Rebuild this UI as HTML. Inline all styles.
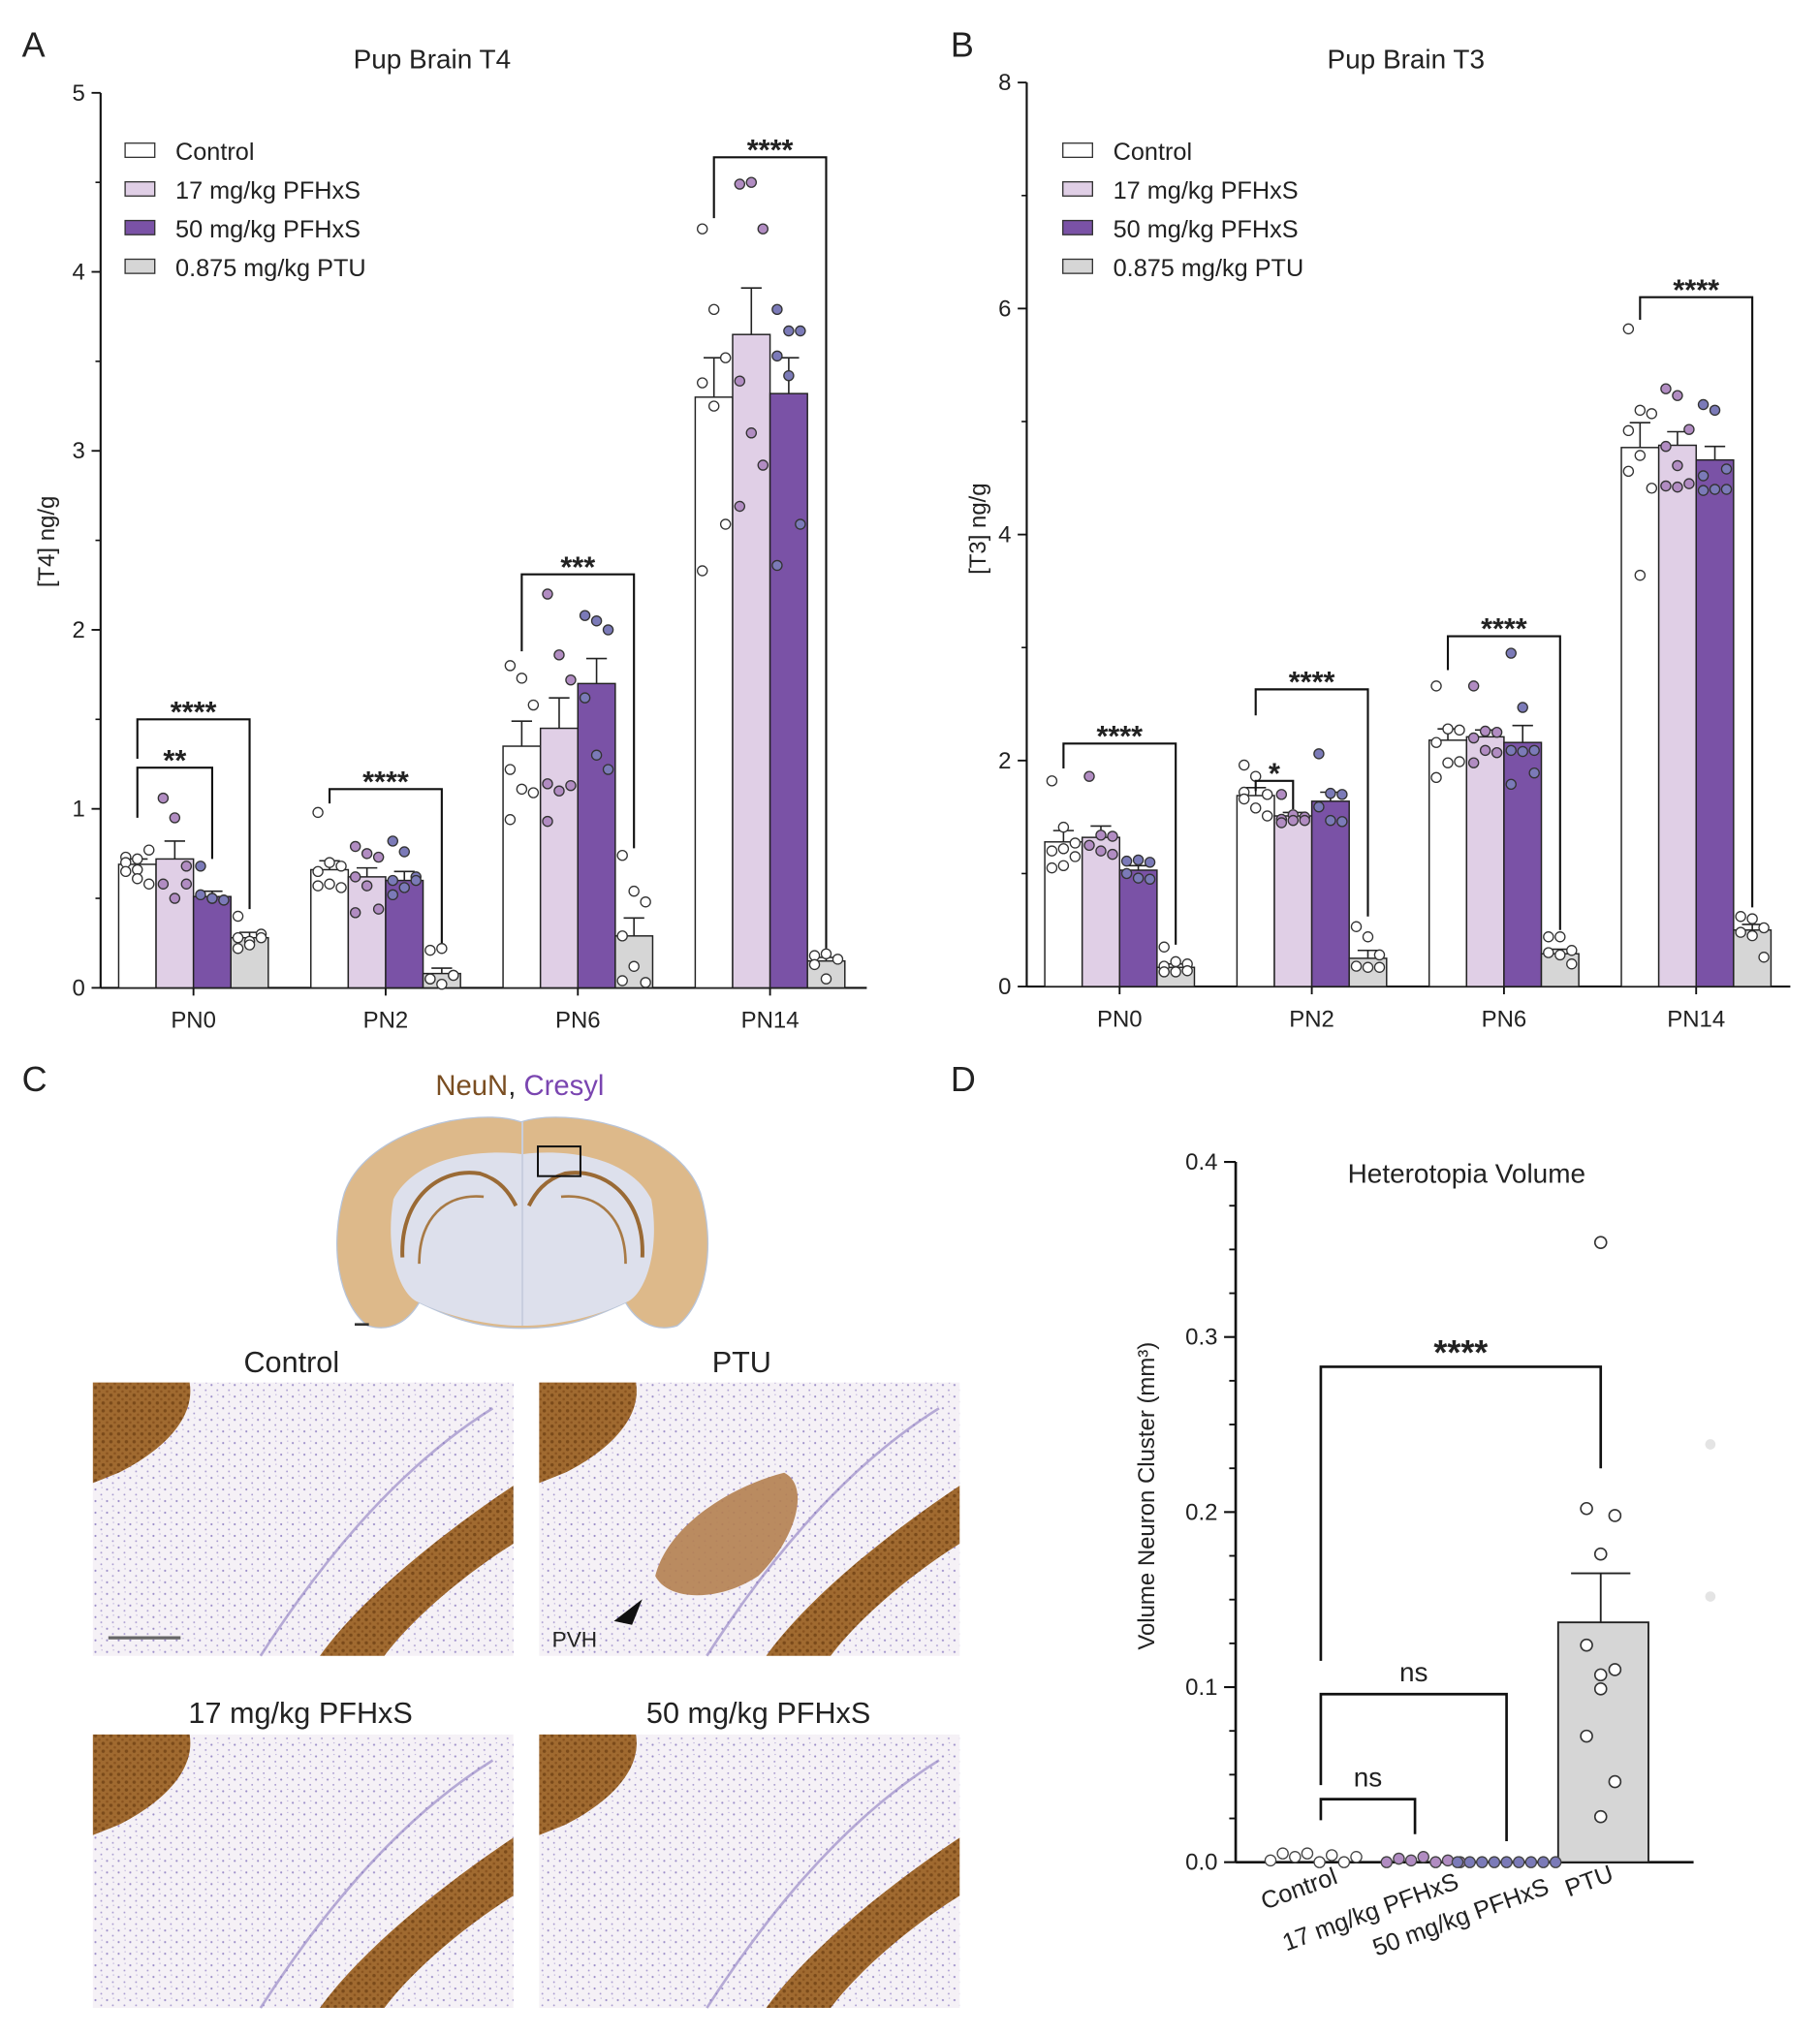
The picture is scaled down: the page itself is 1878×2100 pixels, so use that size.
<!DOCTYPE html>
<html><head><meta charset="utf-8">
<style>
html,body{margin:0;padding:0;background:#fff;}
svg{display:block;font-family:"Liberation Sans",Arial,sans-serif;}
</style></head>
<body>
<svg id="fig" width="1878" height="2100" viewBox="0 0 1411 1578" preserveAspectRatio="none" xmlns="http://www.w3.org/2000/svg">
<defs>
<pattern id="cells" width="9" height="9" patternUnits="userSpaceOnUse">
<rect width="9" height="9" fill="#f5f1f6"/>
<circle cx="2" cy="3" r="0.8" fill="#9a8cc8"/><circle cx="6.5" cy="7" r="0.7" fill="#a89ad0"/><circle cx="7" cy="1.5" r="0.5" fill="#b4a8d6"/>
</pattern>
<pattern id="brown" width="6" height="6" patternUnits="userSpaceOnUse">
<rect width="6" height="6" fill="#a06a30"/><circle cx="2" cy="2" r="1.3" fill="#7a4a1a"/><circle cx="5" cy="5" r="1" fill="#8a5420"/>
</pattern>
</defs>
<g id="root"></g>
</svg>
<script>
// ---------- Panel A data (T4) ----------
const groupsA = ["PN0","PN2","PN6","PN14"];
const seriesNames = ["Control","17 mg/kg PFHxS","50 mg/kg PFHxS","0.875 mg/kg PTU"];
const meanControlA = [0.69,0.66,1.35,3.30];
const mean17A = [0.72,0.62,1.45,3.65];
const mean50A = [0.51,0.60,1.70,3.32];
const meanPtuA = [0.28,0.08,0.29,0.15];
const semControlA = [0.03,0.05,0.14,0.22];
const sem17A = [0.10,0.05,0.17,0.26];
const sem50A = [0.03,0.05,0.14,0.20];
const semPtuA = [0.03,0.03,0.10,0.02];
const ptsControlA = [[0.73,0.72,0.77,0.70,0.66,0.58,0.65,0.61],[0.98,0.70,0.68,0.65,0.58,0.56,0.57],[1.80,1.73,1.58,1.22,1.11,1.09,0.94],[4.24,3.79,3.52,3.38,3.25,2.59,2.33]];
const pts17A = [[1.06,0.95,0.68,0.58,0.50,0.58],[0.79,0.75,0.73,0.62,0.57,0.44,0.42],[2.20,1.86,1.72,1.14,1.10,1.13,0.93],[4.49,4.50,4.24,3.39,3.10,2.92,2.69]];
const pts50A = [[0.68,0.50,0.49,0.52,0.50,0.49],[0.82,0.76,0.62,0.60,0.56,0.60,0.52],[2.08,2.05,2.00,1.62,1.30,1.22],[3.79,3.67,3.67,3.53,3.42,2.59,2.36]];
const ptsPtuA = [[0.40,0.26,0.30,0.28,0.24,0.28,0.22],[0.21,0.22,0.07,0.05,0.02,0.07,0.05],[0.74,0.54,0.48,0.29,0.12,0.03,0.04],[0.18,0.19,0.16,0.13,0.05]];
const ticksA = [0,1,2,3,4,5];
const bracketsA = [[0,0,3,1.50,1.28,0.44,"****"],[0,0,2,1.23,0.95,0.72,"**"],[1,0,3,1.11,1.03,0.25,"****"],[2,0,3,2.31,1.88,0.78,"***"],[3,0,3,4.64,4.30,0.22,"****"]];

// ---------- Panel B data (T3) ----------
const meanControlB = [1.28,1.69,2.18,4.77];
const mean17B = [1.32,1.51,2.21,4.79];
const mean50B = [1.03,1.64,2.16,4.66];
const meanPtuB = [0.17,0.25,0.29,0.50];
const semControlB = [0.10,0.07,0.10,0.22];
const sem17B = [0.10,0.03,0.06,0.12];
const sem50B = [0.04,0.08,0.15,0.12];
const semPtuB = [0.03,0.07,0.04,0.05];
const ptsControlB = [[1.82,1.41,1.27,1.20,1.22,1.15,1.05,1.07],[1.96,1.86,1.70,1.72,1.58,1.51,1.66],[2.66,2.28,2.27,2.16,1.98,1.99,1.85],[5.82,5.10,5.07,4.92,4.70,4.41,4.56,3.64]];
const pts17B = [[1.86,1.34,1.33,1.25,1.20,1.17],[1.70,1.52,1.50,1.48,1.47,1.47,1.45],[2.66,2.26,2.25,2.20,2.09,2.07,1.98],[5.29,5.23,4.93,4.78,4.61,4.45,4.43,4.42]];
const pts50B = [[1.11,1.12,1.10,1.00,0.96,0.95],[2.06,1.71,1.70,1.59,1.47,1.46],[2.95,2.47,2.09,2.09,2.08,1.89,1.79],[5.15,5.10,4.58,4.52,4.40,4.40,4.39]];
const ptsPtuB = [[0.35,0.22,0.20,0.18,0.13,0.14,0.13],[0.53,0.44,0.28,0.18,0.17,0.17],[0.44,0.44,0.32,0.30,0.28,0.20],[0.62,0.60,0.52,0.48,0.45,0.26]];
const ticksB = [0,2,4,6,8];
const bracketsB = [[0,0,3,2.15,1.93,0.37,"****"],[1,0,1,1.82,1.73,1.57,"*"],[1,0,3,2.63,2.40,0.62,"****"],[2,0,3,3.10,2.80,0.50,"****"],[3,0,3,6.10,5.90,0.70,"****"]];

// ---------- Panel D data ----------
const catsD = ["Control","17 mg/kg PFHxS","50 mg/kg PFHxS","PTU"];
const meanPtuD = 0.137;
const semPtuD = 0.028;
const ptsPtuD = [0.354,0.202,0.198,0.176,0.124,0.110,0.107,0.099,0.072,0.046,0.026];
const ptsControlD = [0.001,0.005,0.003,0.005,0.0,0.004,0.0,0.003];
const pts17D = [0.0,0.002,0.001,0.003,0.0,0.001,0.0];
const pts50D = [0,0,0,0,0,0,0,0,0];
const ticksD = [0,0.1,0.2,0.3,0.4];
const bracketsD = [[0,3,0.283,0.115,0.225,"****"],[0,2,0.096,0.044,0.012,"ns"],[0,1,0.036,0.024,0.016,"ns"]];

const NS="http://www.w3.org/2000/svg";
const root=document.getElementById('root');
function mk(tag,attrs,parent){const e=document.createElementNS(NS,tag);for(const k in attrs)e.setAttribute(k,attrs[k]);(parent||root).appendChild(e);return e;}
function txt(s,x,y,size,attrs,parent){const e=mk('text',Object.assign({x:x,y:y,'font-size':size,fill:'#222'},attrs||{}),parent);e.textContent=s;return e;}

const barFill=["#ffffff","#e0cfe6","#7a52a6","#d6d6d6"];
const ptFill=["#ffffff","#b18cc2","#7b7ab8","#ffffff"];

function barPanel(cfg){
  const g=mk('g',{});
  
  
  const y=v=>cfg.y0-(v/cfg.ymax)*(cfg.y0-cfg.ytop);
  const gx=i=>cfg.x0+cfg.firstOff+i*cfg.gap;
  const bw=29;
  const bx=(i,s)=>gx(i)-2*bw+s*bw;
  const ya=mk('line',{x1:cfg.x0,y1:cfg.ytop,x2:cfg.x0,y2:cfg.y0,stroke:'#111','stroke-width':1.6},g);
  
  const xa=mk('line',{x1:cfg.x0,y1:cfg.y0,x2:cfg.xend,y2:cfg.y0,stroke:'#111','stroke-width':1.6},g);
  
  cfg.ticks.forEach((t,k)=>{
    mk('line',{x1:cfg.x0-7,y1:y(t),x2:cfg.x0,y2:y(t),stroke:'#111','stroke-width':1.4},g);
    const lb=txt(String(t),cfg.x0-12,y(t)+6,18,{'text-anchor':'end'},g);
    
    if(k<cfg.ticks.length-1){const step=(cfg.ticks[k+1]-t)/cfg.minor;for(let m=1;m<cfg.minor;m++){mk('line',{x1:cfg.x0-4,y1:y(t+m*step),x2:cfg.x0,y2:y(t+m*step),stroke:'#111','stroke-width':1.2},g);}}
  });
  const series=[[cfg.mc,cfg.sc,cfg.pc],[cfg.m17,cfg.s17,cfg.p17],[cfg.m50,cfg.s50,cfg.p50],[cfg.mp,cfg.sp,cfg.pp]];
  groupsA.forEach((gname,i)=>{
    const lb=txt(gname,gx(i),cfg.y0+31,18,{'text-anchor':'middle'},g);
    
    mk('line',{x1:gx(i),y1:cfg.y0,x2:gx(i),y2:cfg.y0+6,stroke:'#111','stroke-width':1.4},g);
    series.forEach((sr,s)=>{
      const m=sr[0][i],se=sr[1][i];
      const r=mk('rect',{x:bx(i,s),y:y(m),width:bw,height:cfg.y0-y(m),fill:barFill[s],stroke:'#222','stroke-width':1.1},g);
      
      
      const cx=bx(i,s)+bw/2;
      mk('line',{x1:cx,y1:y(m),x2:cx,y2:y(m+se),stroke:'#222','stroke-width':1.2},g);
      mk('line',{x1:cx-8,y1:y(m+se),x2:cx+8,y2:y(m+se),stroke:'#222','stroke-width':1.2},g);
      const pts=sr[2][i];
      pts.forEach((v,j)=>{
        const off=((j%3)-1)*9;
        const c=mk('circle',{cx:cx+off,cy:y(v),r:3.8,fill:ptFill[s],stroke:'#333','stroke-width':1},g);
        
        
      });
    });
  });
  cfg.brackets.forEach(b=>{
    const xl=bx(b[0],b[1])+bw/2,xr=bx(b[0],b[2])+bw/2;
    const p=mk('path',{d:`M${xl},${y(b[4])}V${y(b[3])}H${xr}V${y(b[5])}`,fill:'none',stroke:'#111','stroke-width':1.6},g);
    
    const t=txt(b[6],(xl+xr)/2,y(b[3])+2,23,{'text-anchor':'middle','font-weight':'bold'},g);
    
  });
  seriesNames.forEach((n,s)=>{
    const ly=cfg.legY+s*30;
    const r=mk('rect',{x:cfg.legX,y:ly-6,width:23,height:11,fill:barFill[s],stroke:'#333','stroke-width':1},g);
    
    const t=txt(n,cfg.legX+39,ly+7,19,{},g);
    
  });
  const tt=txt(cfg.title,cfg.titleX,53,21,{'text-anchor':'middle'},g);
  
  const yl=txt(cfg.ylabel,0,0,18,{'text-anchor':'middle',transform:`translate(${cfg.ylX},${cfg.ylY}) rotate(-90)`},g);
  
  const pl=txt(cfg.letter,cfg.letterX,44,27,{},g);
  
}

barPanel({name:'panel-a-t4-chart',x0:78,xend:672,y0:766,ytop:72,ymax:5,ticks:ticksA,minor:2,firstOff:72,gap:149,
  mc:meanControlA,m17:mean17A,m50:mean50A,mp:meanPtuA,sc:semControlA,s17:sem17A,s50:sem50A,sp:semPtuA,
  pc:ptsControlA,p17:pts17A,p50:pts50A,pp:ptsPtuA,brackets:bracketsA,legX:97,legY:117,title:'Pup Brain T4',titleX:335,
  ylabel:'[T4] ng/g',ylX:42,ylY:420,letter:'A',letterX:17});
barPanel({name:'panel-b-t3-chart',x0:796,xend:1388,y0:765,ytop:64,ymax:8,ticks:ticksB,minor:2,firstOff:72,gap:149,
  mc:meanControlB,m17:mean17B,m50:mean50B,mp:meanPtuB,sc:semControlB,s17:sem17B,s50:sem50B,sp:semPtuB,
  pc:ptsControlB,p17:pts17B,p50:pts50B,pp:ptsPtuB,brackets:bracketsB,legX:824,legY:117,title:'Pup Brain T3',titleX:1090,
  ylabel:'[T3] ng/g',ylX:764,ylY:410,letter:'B',letterX:737});

// ---------- Panel C (histology illustration) ----------
(function(){
  const g=mk('g',{});
  
  const pl=txt('C',17,846,27,{},g);
  const st=mk('text',{x:403,y:849,'font-size':22,'text-anchor':'middle'},g);
  
  const a=mk('tspan',{fill:'#7a4e22'},st);a.textContent='NeuN';
  const b=mk('tspan',{fill:'#222'},st);b.textContent=', ';
  const c=mk('tspan',{fill:'#7a45b0'},st);c.textContent='Cresyl';
  const br=mk('path',{d:'M404,870 C440,858 525,875 543,925 C555,965 548,1010 525,1028 C505,1034 492,1022 485,1010 C460,1022 440,1030 405,1030 C370,1030 350,1022 325,1010 C318,1022 305,1034 285,1028 C262,1010 255,965 267,925 C285,875 370,858 404,870 Z',fill:'#ddb98a',stroke:'#b8c4d8','stroke-width':1},g);
  
  mk('path',{d:'M405,895 C445,890 490,900 505,930 C512,970 500,1005 485,1010 C460,1022 430,1028 405,1028 C380,1028 350,1022 325,1010 C310,1005 298,970 305,930 C320,900 365,890 405,895 Z',fill:'#dde0ec'},g);
  mk('path',{d:'M312,975 C310,930 340,905 372,910 C388,915 395,925 400,935 M498,975 C500,930 470,905 438,910 C422,915 415,925 410,935',fill:'none',stroke:'#9a6a35','stroke-width':3},g);
  mk('path',{d:'M325,980 C325,945 345,925 375,928 M485,980 C485,945 465,925 435,928',fill:'none',stroke:'#a87a45','stroke-width':2},g);
  mk('path',{d:'M405,870 V1028',fill:'none',stroke:'#c8cede','stroke-width':1.5},g);
  const box=mk('rect',{x:417,y:889,width:33,height:23,fill:'none',stroke:'#111','stroke-width':1.5},g);
  
  mk('line',{x1:275,y1:1027,x2:286,y2:1027,stroke:'#333','stroke-width':2},g);
  const panels=[['Control',72,1072,226,1064,false],['PTU',418,1072,575,1064,true],['17 mg/kg PFHxS',72,1345,233,1336,false],['50 mg/kg PFHxS',418,1345,588,1336,false]];
  panels.forEach(p=>{
    const [name,x,y,lx,ly,het]=p;
    const w=326,h=212;
    const mg=mk('g',{},g);
    
    
    mk('rect',{x:x,y:y,width:w,height:h,fill:'url(#cells)'},mg);
    mk('path',{d:`M${x},${y} H${x+75} C${x+80},${y+30} ${x+50},${y+55} ${x+20},${y+70} L${x},${y+78} Z`,fill:'url(#brown)'},mg);
    mk('path',{d:`M${x+w},${y+80} L${x+w},${y+125} C${x+w-40},${y+150} ${x+w-80},${y+185} ${x+w-100},${y+h} L${x+w-150},${y+h} C${x+w-120},${y+170} ${x+w-60},${y+120} ${x+w},${y+80} Z`,fill:'url(#brown)'},mg);
    mk('path',{d:`M${x+130},${y+h} C${x+170},${y+150} ${x+230},${y+70} ${x+310},${y+20}`,fill:'none',stroke:'#8a7ac0','stroke-width':2,opacity:0.6},mg);
    if(het){
      mk('path',{d:`M${x+90},${y+150} C${x+100},${y+110} ${x+150},${y+80} ${x+190},${y+70} C${x+210},${y+80} ${x+200},${y+120} ${x+170},${y+150} C${x+140},${y+170} ${x+100},${y+170} ${x+90},${y+150} Z`,fill:'#b48050',opacity:0.9},mg);
      mk('path',{d:`M${x+58},${y+185} L${x+80},${y+168} L${x+72},${y+188} Z`,fill:'#111'},mg);
      txt('PVH',x+10,y+205,17,{},mg);
    }
    if(name==='Control'){mk('line',{x1:x+12,y1:y+198,x2:x+68,y2:y+198,stroke:'#666','stroke-width':2.5},mg);}
    const lt=txt(name,lx,ly,23,{'text-anchor':'middle'},g);
    
  });
})();

// ---------- Panel D ----------
(function(){
  const g=mk('g',{});
  
  const x0=958,y0=1444,ytop=901,ymax=0.4,xend=1313;
  const y=v=>y0-(v/ymax)*(y0-ytop);
  const pl=txt('D',737,846,27,{},g);
  const ya=mk('line',{x1:x0,y1:ytop,x2:x0,y2:y0,stroke:'#111','stroke-width':2},g);
  
  const xa=mk('line',{x1:x0,y1:y0,x2:xend,y2:y0,stroke:'#111','stroke-width':2},g);
  
  ticksD.forEach((t,k)=>{
    mk('line',{x1:x0-9,y1:y(t),x2:x0,y2:y(t),stroke:'#111','stroke-width':1.6},g);
    const lb=txt(t.toFixed(1),x0-14,y(t)+6,18,{'text-anchor':'end'},g);
    
    if(k<ticksD.length-1){for(let m=1;m<4;m++){const v=t+m*0.025;mk('line',{x1:x0-5,y1:y(v),x2:x0,y2:y(v),stroke:'#111','stroke-width':1.4},g);}}
  });
  const tt=txt('Heterotopia Volume',1137,917,21,{'text-anchor':'middle'},g);
  
  const yl=txt('Volume Neuron Cluster (mm³)',0,0,18,{'text-anchor':'middle',transform:'translate(895,1160) rotate(-90)'},g);
  
  const cx=[1024,1097,1168,1241];
  const bar=mk('rect',{x:1208,y:y(meanPtuD),width:70,height:y0-y(meanPtuD),fill:'#d6d6d6',stroke:'#222','stroke-width':1.4},g);
  
  mk('line',{x1:1241,y1:y(meanPtuD),x2:1241,y2:y(meanPtuD+semPtuD),stroke:'#222','stroke-width':1.4},g);
  mk('line',{x1:1218,y1:y(meanPtuD+semPtuD),x2:1264,y2:y(meanPtuD+semPtuD),stroke:'#222','stroke-width':1.4},g);
  const offs=[0,-11,11,0,-11,11,0,0,-11,11,0];
  ptsPtuD.forEach((v,j)=>{const c=mk('circle',{cx:1241+offs[j],cy:y(v),r:4.5,fill:'#fff',stroke:'#333','stroke-width':1.2},g);
    });
  const zero=[[ptsControlD,985,'#ffffff'],[pts17D,1075,'#b18cc2'],[pts50D,1130,'#7b7ab8']];
  zero.forEach(z=>{z[0].forEach((v,j)=>{const c=mk('circle',{cx:z[1]+j*9.5,cy:y(v),r:4.2,fill:z[2],stroke:'#444','stroke-width':1},g);
    });});
  mk('circle',{cx:1326,cy:1120,r:4,fill:'#e4e4e4'},g);
  mk('circle',{cx:1326,cy:1238,r:4,fill:'#e4e4e4'},g);
  bracketsD.forEach(b=>{
    const xl=cx[b[0]],xr=cx[b[1]];
    const p=mk('path',{d:`M${xl},${y(b[3])}V${y(b[2])}H${xr}V${y(b[4])}`,fill:'none',stroke:'#111','stroke-width':2},g);
    
    const t=txt(b[5],(xl+xr)/2,y(b[2])-(b[5]==='ns'?10:2),b[5]==='ns'?21:27,{'text-anchor':'middle','font-weight':b[5]==='ns'?'normal':'bold'},g);
    
  });
  const lab=[[1038,1460],[1132,1464],[1202,1468],[1252,1458]];
  catsD.forEach((c,i)=>{
    const t=txt(c,0,0,19,{'text-anchor':'end',transform:`translate(${lab[i][0]},${lab[i][1]}) rotate(-20)`},g);
    
  });
})();
</script>
</body></html>
